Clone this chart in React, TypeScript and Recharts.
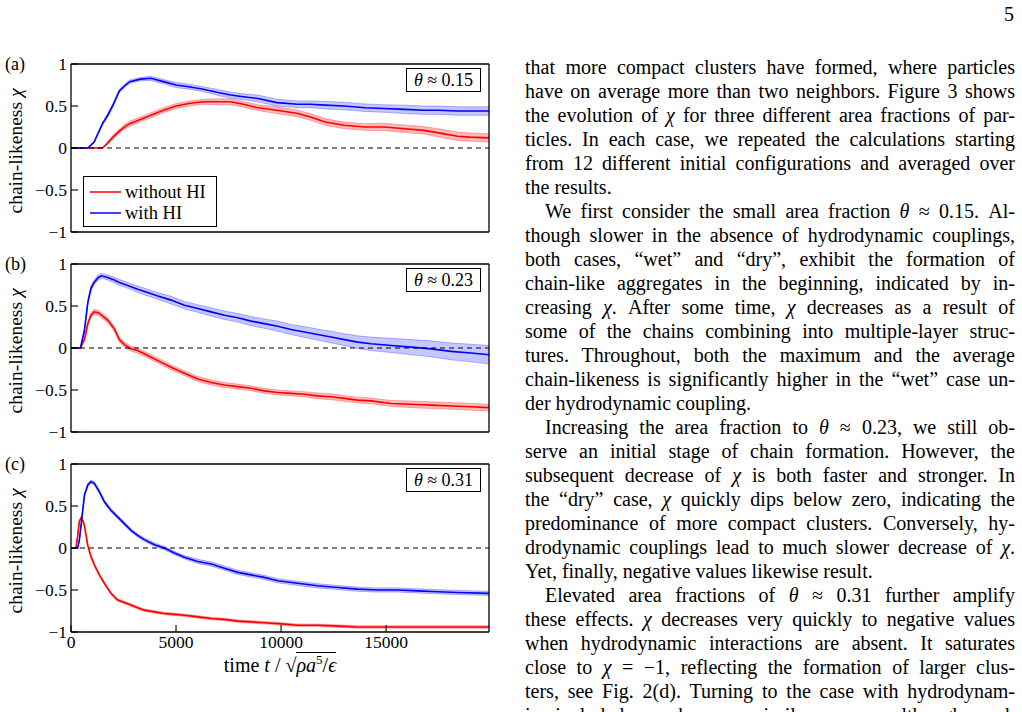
import React from 'react';
import { ComposedChart, Line, Area, XAxis, YAxis, ReferenceLine } from 'recharts';

// ---------- data: panel (a) theta ~ 0.15 ----------
const aTime = [0, 800, 1100, 1500, 1750, 2000, 2300, 2600, 2800, 3300, 3800, 4400, 5000, 5600, 6300, 7000, 7600, 8200, 8900, 9800, 10800, 11400, 12100, 13000, 14000, 14900, 15900, 16800, 17500, 18400, 19000, 19900];
const aRed = [0, 0, 0, 0, 0.06, 0.13, 0.2, 0.26, 0.29, 0.34, 0.39, 0.45, 0.5, 0.53, 0.55, 0.55, 0.55, 0.52, 0.48, 0.45, 0.41, 0.37, 0.31, 0.27, 0.25, 0.25, 0.23, 0.21, 0.18, 0.14, 0.13, 0.12];
const aRedErr = [0, 0, 0, 0, 0.02, 0.025, 0.025, 0.03, 0.03, 0.03, 0.03, 0.03, 0.03, 0.03, 0.03, 0.035, 0.035, 0.035, 0.035, 0.04, 0.04, 0.04, 0.04, 0.04, 0.04, 0.045, 0.045, 0.045, 0.05, 0.05, 0.05, 0.05];
const aBlue = [0, 0, 0.07, 0.29, 0.39, 0.51, 0.68, 0.75, 0.79, 0.82, 0.83, 0.79, 0.75, 0.73, 0.7, 0.66, 0.63, 0.61, 0.59, 0.54, 0.52, 0.52, 0.51, 0.5, 0.48, 0.47, 0.46, 0.45, 0.45, 0.44, 0.44, 0.44];
const aBlueErr = [0, 0, 0.01, 0.015, 0.02, 0.02, 0.02, 0.02, 0.02, 0.02, 0.025, 0.025, 0.03, 0.03, 0.03, 0.035, 0.035, 0.035, 0.04, 0.04, 0.04, 0.04, 0.045, 0.045, 0.045, 0.045, 0.05, 0.05, 0.05, 0.05, 0.05, 0.05];

// ---------- data: panel (b) theta ~ 0.23 ----------
const bTime = [0, 450, 640, 800, 950, 1100, 1300, 1450, 1750, 2060, 2300, 2540, 2860, 3170, 3650, 4130, 4760, 5400, 6030, 6670, 7300, 7940, 8570, 9200, 9840, 10470, 11110, 11740, 12380, 13010, 13650, 14280, 15240, 16190, 17140, 18100, 19040, 19900];
const bRed = [0, 0, 0.1, 0.29, 0.39, 0.43, 0.42, 0.39, 0.33, 0.23, 0.1, 0.04, -0.01, -0.03, -0.09, -0.15, -0.23, -0.3, -0.37, -0.41, -0.44, -0.46, -0.48, -0.51, -0.53, -0.54, -0.55, -0.57, -0.58, -0.6, -0.62, -0.63, -0.66, -0.67, -0.68, -0.69, -0.7, -0.71];
const bRedErr = [0, 0, 0.02, 0.025, 0.03, 0.03, 0.03, 0.03, 0.03, 0.03, 0.03, 0.03, 0.03, 0.03, 0.03, 0.03, 0.03, 0.03, 0.03, 0.03, 0.03, 0.03, 0.03, 0.03, 0.03, 0.03, 0.03, 0.035, 0.035, 0.035, 0.035, 0.035, 0.035, 0.04, 0.04, 0.04, 0.04, 0.04];
const bBlue = [0, 0, 0.21, 0.54, 0.71, 0.78, 0.84, 0.86, 0.84, 0.81, 0.78, 0.76, 0.73, 0.7, 0.66, 0.62, 0.57, 0.51, 0.47, 0.43, 0.39, 0.36, 0.32, 0.29, 0.26, 0.22, 0.19, 0.16, 0.13, 0.1, 0.07, 0.05, 0.03, 0.01, -0.01, -0.04, -0.06, -0.08];
const bBlueErr = [0, 0, 0.02, 0.025, 0.03, 0.03, 0.03, 0.03, 0.03, 0.035, 0.035, 0.035, 0.035, 0.04, 0.04, 0.04, 0.045, 0.045, 0.045, 0.05, 0.05, 0.05, 0.055, 0.055, 0.06, 0.06, 0.065, 0.065, 0.07, 0.07, 0.075, 0.08, 0.085, 0.09, 0.095, 0.1, 0.105, 0.11];

// ---------- data: panel (c) theta ~ 0.31 ----------
const cTime = [0, 240, 320, 400, 480, 560, 640, 800, 950, 1110, 1350, 1590, 1900, 2220, 2540, 2860, 3170, 3490, 3970, 4440, 4920, 5400, 6030, 6670, 7300, 7940, 8570, 9200, 9840, 10790, 11740, 12700, 13650, 14600, 15550, 16500, 17460, 18410, 19900];
const cRed = [0, 0, 0.15, 0.32, 0.36, 0.33, 0.27, 0.03, -0.1, -0.2, -0.32, -0.42, -0.54, -0.62, -0.65, -0.68, -0.71, -0.74, -0.76, -0.78, -0.79, -0.8, -0.82, -0.84, -0.85, -0.87, -0.88, -0.89, -0.9, -0.92, -0.92, -0.93, -0.94, -0.94, -0.94, -0.94, -0.94, -0.94, -0.94];
const cRedErr = [0, 0, 0.01, 0.015, 0.015, 0.015, 0.015, 0.015, 0.015, 0.015, 0.015, 0.015, 0.015, 0.015, 0.015, 0.015, 0.015, 0.015, 0.015, 0.015, 0.015, 0.015, 0.015, 0.015, 0.015, 0.015, 0.015, 0.015, 0.015, 0.015, 0.015, 0.015, 0.015, 0.015, 0.015, 0.015, 0.015, 0.015, 0.015];
const cBlue = [0, 0, 0, 0.1, 0.27, 0.45, 0.63, 0.75, 0.79, 0.77, 0.67, 0.55, 0.45, 0.37, 0.29, 0.21, 0.15, 0.1, 0.04, 0.0, -0.06, -0.11, -0.16, -0.19, -0.24, -0.29, -0.32, -0.35, -0.39, -0.42, -0.45, -0.47, -0.49, -0.5, -0.5, -0.51, -0.52, -0.53, -0.54];
const cBlueErr = [0, 0, 0, 0.01, 0.015, 0.02, 0.02, 0.02, 0.02, 0.02, 0.02, 0.02, 0.02, 0.02, 0.02, 0.02, 0.02, 0.02, 0.02, 0.02, 0.02, 0.02, 0.025, 0.025, 0.025, 0.025, 0.025, 0.025, 0.025, 0.025, 0.025, 0.025, 0.025, 0.025, 0.025, 0.025, 0.025, 0.025, 0.025];

// ---------- axes ----------
const xTicks = [0, 5000, 10000, 15000];
const yTicks = [-1, -0.5, 0, 0.5, 1];
const xDomain = [0, 19900];
const yDomain = [-1, 1];
const seriesNames = ['without HI', 'with HI'];
const panelLabels = ['(a)', '(b)', '(c)'];
const thetaLabels = ['0.15', '0.23', '0.31'];

// ---------- page text ----------
const bodyLines: { text: string; indent?: boolean; last?: boolean }[] = [
  { text: 'that more compact clusters have formed, where particles' },
  { text: 'have on average more than two neighbors. Figure 3 shows' },
  { text: 'the evolution of χ for three different area fractions of par-' },
  { text: 'ticles. In each case, we repeated the calculations starting' },
  { text: 'from 12 different initial configurations and averaged over' },
  { text: 'the results.', last: true },
  { text: 'We first consider the small area fraction θ ≈ 0.15. Al-', indent: true },
  { text: 'though slower in the absence of hydrodynamic couplings,' },
  { text: 'both cases, “wet” and “dry”, exhibit the formation of' },
  { text: 'chain-like aggregates in the beginning, indicated by in-' },
  { text: 'creasing χ. After some time, χ decreases as a result of' },
  { text: 'some of the chains combining into multiple-layer struc-' },
  { text: 'tures. Throughout, both the maximum and the average' },
  { text: 'chain-likeness is significantly higher in the “wet” case un-' },
  { text: 'der hydrodynamic coupling.', last: true },
  { text: 'Increasing the area fraction to θ ≈ 0.23, we still ob-', indent: true },
  { text: 'serve an initial stage of chain formation. However, the' },
  { text: 'subsequent decrease of χ is both faster and stronger. In' },
  { text: 'the “dry” case, χ quickly dips below zero, indicating the' },
  { text: 'predominance of more compact clusters. Conversely, hy-' },
  { text: 'drodynamic couplings lead to much slower decrease of χ.' },
  { text: 'Yet, finally, negative values likewise result.', last: true },
  { text: 'Elevated area fractions of θ ≈ 0.31 further amplify', indent: true },
  { text: 'these effects. χ decreases very quickly to negative values' },
  { text: 'when hydrodynamic interactions are absent. It saturates' },
  { text: 'close to χ = −1, reflecting the formation of larger clus-' },
  { text: 'ters, see Fig. 2(d). Turning to the case with hydrodynam-' },
  { text: 'ics included, we observe a similar process, although much' },
];

const FONT = '"Liberation Serif", "Times New Roman", serif';
const RED = '#ff0000';
const BLUE = '#0000ff';

type Row = { t: number; red: number; blue: number; redBand: [number, number]; blueBand: [number, number] };

function buildRows(time: number[], red: number[], redErr: number[], blue: number[], blueErr: number[]): Row[] {
  return time.map((t, i) => ({
    t,
    red: red[i],
    blue: blue[i],
    redBand: [red[i] - redErr[i], red[i] + redErr[i]],
    blueBand: [blue[i] - blueErr[i], blue[i] + blueErr[i]],
  }));
}

const panels = [
  buildRows(aTime, aRed, aRedErr, aBlue, aBlueErr),
  buildRows(bTime, bRed, bRedErr, bBlue, bBlueErr),
  buildRows(cTime, cRed, cRedErr, cBlue, cBlueErr),
];

function fmtY(v: number) {
  if (v === 0) return '0';
  const s = String(Math.abs(v));
  return v < 0 ? '\u2212' + s : s;
}

const tickStyle = { fill: '#000', fontSize: 17.5, fontFamily: FONT };
const axisLine = { stroke: '#000', strokeWidth: 1.3 };
const tickLine = { stroke: '#000', strokeWidth: 1.1 };

const M_TOP = 12;
const M_BOTTOM = 12;

function Panel({ rows, plotTop, showX }: { rows: Row[]; plotTop: number; showX: boolean }) {
  const bottomH = showX ? 30 : 1;
  const height = M_TOP + 1 + 168 + bottomH + M_BOTTOM;
  return (
    <div style={{ position: 'absolute', left: 0, top: plotTop - M_TOP - 1, width: 500, height }}>
      <ComposedChart width={500} height={height} data={rows} margin={{ top: M_TOP, right: 10, bottom: M_BOTTOM, left: 0 }}>
        <XAxis
          xAxisId="b"
          dataKey="t"
          type="number"
          domain={xDomain}
          ticks={xTicks}
          interval={0}
          orientation="bottom"
          height={bottomH}
          tickSize={-7}
          tickMargin={11}
          tick={showX ? tickStyle : false}
          axisLine={axisLine}
          tickLine={tickLine}
          allowDataOverflow
        />
        <XAxis
          xAxisId="t"
          dataKey="t"
          type="number"
          domain={xDomain}
          ticks={xTicks}
          interval={0}
          orientation="top"
          height={1}
          tickSize={-7}
          tick={false}
          axisLine={axisLine}
          tickLine={tickLine}
          allowDataOverflow
        />
        <YAxis
          yAxisId="l"
          type="number"
          domain={yDomain}
          ticks={yTicks}
          interval={0}
          width={71}
          tickSize={-7}
          tickMargin={11}
          tickFormatter={fmtY}
          tick={tickStyle}
          axisLine={axisLine}
          tickLine={tickLine}
          allowDataOverflow
        />
        <YAxis
          yAxisId="r"
          orientation="right"
          type="number"
          domain={yDomain}
          ticks={yTicks}
          interval={0}
          width={1}
          tickSize={-7}
          tick={false}
          axisLine={axisLine}
          tickLine={tickLine}
          allowDataOverflow
        />
        <Area
          xAxisId="b"
          yAxisId="l"
          type="linear"
          dataKey="redBand"
          fill={RED}
          fillOpacity={0.28}
          stroke={RED}
          strokeOpacity={0.35}
          strokeWidth={0.8}
          isAnimationActive={false}
          activeDot={false}
        />
        <Line
          xAxisId="b"
          yAxisId="l"
          type="linear"
          dataKey="red"
          name={seriesNames[0]}
          stroke={RED}
          strokeWidth={1.6}
          dot={false}
          activeDot={false}
          isAnimationActive={false}
        />
        <Area
          xAxisId="b"
          yAxisId="l"
          type="linear"
          dataKey="blueBand"
          fill={BLUE}
          fillOpacity={0.22}
          stroke={BLUE}
          strokeOpacity={0.35}
          strokeWidth={0.8}
          isAnimationActive={false}
          activeDot={false}
        />
        <Line
          xAxisId="b"
          yAxisId="l"
          type="linear"
          dataKey="blue"
          name={seriesNames[1]}
          stroke={BLUE}
          strokeWidth={1.6}
          dot={false}
          activeDot={false}
          isAnimationActive={false}
        />
        <ReferenceLine xAxisId="b" yAxisId="l" y={0} stroke="#000" strokeWidth={1.2} strokeDasharray="5 4" />
      </ComposedChart>
    </div>
  );
}

function mathify(s: string) {
  const parts = s.split(/(χ|θ)/);
  return parts.map((p, i) => (p === 'χ' || p === 'θ' ? <i key={i}>{p}</i> : <React.Fragment key={i}>{p}</React.Fragment>));
}

export default function App() {
  const plotTops = [64, 264, 464];
  return (
    <div
      style={{
        position: 'absolute',
        left: 0,
        top: 0,
        width: 1022,
        height: 712,
        overflow: 'hidden',
        background: '#fff',
        fontFamily: FONT,
        color: '#000',
      }}
    >
      {panels.map((rows, i) => (
        <Panel key={i} rows={rows} plotTop={plotTops[i]} showX={i === 2} />
      ))}

      {panels.map((_, i) => (
        <React.Fragment key={'ov' + i}>
          <div style={{ position: 'absolute', left: 5, top: plotTops[i] - 10, fontSize: 18, lineHeight: '20px' }}>
            {panelLabels[i]}
          </div>
          <div
            style={{
              position: 'absolute',
              left: 16 - 85,
              top: plotTops[i] + 87 - 11,
              width: 170,
              height: 22,
              lineHeight: '22px',
              textAlign: 'center',
              fontSize: 19.5,
              transform: 'rotate(-90deg)',
              whiteSpace: 'nowrap',
            }}
          >
            chain-likeness <i>χ</i>
          </div>
          <div
            style={{
              position: 'absolute',
              left: 406,
              top: plotTops[i] + 4,
              width: 75,
              height: 24,
              boxSizing: 'border-box',
              border: '1.3px solid #000',
              background: '#fff',
              fontSize: 18,
              lineHeight: '22px',
              textAlign: 'center',
              whiteSpace: 'nowrap',
            }}
          >
            <i>θ</i> ≈ {thetaLabels[i]}
          </div>
        </React.Fragment>
      ))}

      {/* legend in panel (a) */}
      <div
        style={{
          position: 'absolute',
          left: 83,
          top: 176,
          width: 134,
          height: 51,
          boxSizing: 'border-box',
          border: '1.3px solid #000',
          background: '#fff',
          fontSize: 18.5,
        }}
      >
        {seriesNames.map((n, i) => (
          <div key={n} style={{ position: 'absolute', left: 6, top: 5 + i * 21, height: 20, display: 'flex', alignItems: 'center' }}>
            <svg width={31} height={4} style={{ display: 'block' }}>
              <line x1={0} y1={2} x2={31} y2={2} stroke={i === 0 ? RED : BLUE} strokeWidth={1.5} />
            </svg>
            <span style={{ marginLeft: 4, lineHeight: '20px', whiteSpace: 'nowrap' }}>{n}</span>
          </div>
        ))}
      </div>

      {/* x axis label */}
      <div
        style={{
          position: 'absolute',
          left: 175,
          width: 210,
          top: 652,
          textAlign: 'center',
          fontSize: 20,
          lineHeight: '26px',
          whiteSpace: 'nowrap',
        }}
      >
        time <i>t</i> / √<span style={{ borderTop: '1px solid #000', paddingTop: 1 }}>
          <i>ρa</i>
          <sup style={{ fontSize: 13, lineHeight: 0 }}>5</sup>/<i>ϵ</i>
        </span>
      </div>

      {/* page number */}
      <div style={{ position: 'absolute', right: 8, top: 2, fontSize: 20, lineHeight: '24px' }}>5</div>

      {/* body text */}
      <div style={{ position: 'absolute', left: 525, top: 55, width: 490, fontSize: 20, lineHeight: '24px' }}>
        {bodyLines.map((l, i) => (
          <div
            key={i}
            style={{
              height: 24,
              textAlign: l.last ? 'left' : 'justify',
              textAlignLast: l.last ? 'left' : 'justify',
              textIndent: l.indent ? 20 : 0,
              overflow: 'visible',
            }}
          >
            {mathify(l.text)}
          </div>
        ))}
      </div>
    </div>
  );
}
